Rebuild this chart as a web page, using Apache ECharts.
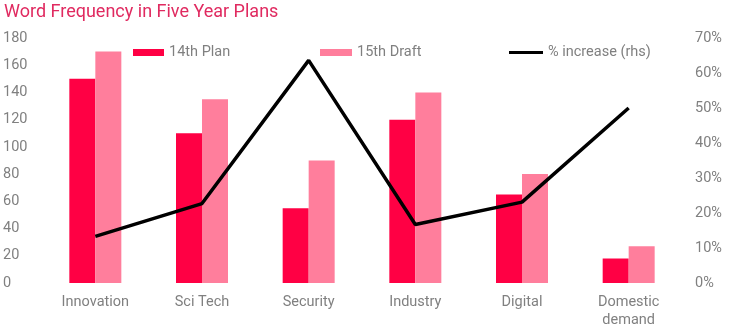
<!DOCTYPE html>
<html><head><meta charset="utf-8">
<script src="https://cdn.jsdelivr.net/npm/echarts@6/dist/echarts.min.js"></script>
<style>html,body{margin:0;padding:0;background:#fff}#c{width:739px;height:333px}</style>
</head><body><div id="c"></div>
<script>
const categories = ['Innovation', 'Sci Tech', 'Security', 'Industry', 'Digital', 'Domestic\ndemand'];
const plan14 = [150, 110, 55, 120, 65, 18];
const draft15 = [170, 135, 90, 140, 80, 27];
const pctIncrease = [0.133, 0.227, 0.636, 0.167, 0.231, 0.50];
const leftTicks = [0, 180, 20];
const rightTicks = [0, 0.7, 0.1];

const txt = '#808080';
const font = 'Roboto';
const fs = 14.5;
const chart = echarts.init(document.getElementById('c'));
chart.setOption({
  animation: false,
  textStyle: { fontFamily: font },
  title: { text: 'Word Frequency in Five Year Plans', left: 2, top: 1, padding: [2, 2],
    textStyle: { color: '#e02a60', fontSize: 18, fontWeight: 'normal', fontFamily: font } },
  legend: [
    { data: ['14th Plan'], left: 133, top: 45, padding: 0, itemWidth: 31, itemHeight: 7, icon: 'rect', itemGap: 4,
      textStyle: { color: txt, fontSize: fs, fontFamily: font } },
    { data: ['15th Draft'], left: 320, top: 45, padding: 0, itemWidth: 32, itemHeight: 7, icon: 'rect',
      textStyle: { color: txt, fontSize: fs, fontFamily: font } },
    { data: [{ name: '% increase (rhs)', icon: 'rect', itemStyle: { color: '#000' } }], left: 509, top: 45, padding: 0, itemWidth: 34, itemHeight: 3,
      textStyle: { color: txt, fontSize: fs, fontFamily: font } }
  ],
  grid: { left: 42, right: 57, top: 38, bottom: 50, containLabel: false },
  xAxis: { type: 'category', data: categories,
    axisLine: { show: false }, axisTick: { show: false },
    axisLabel: { color: txt, fontSize: fs, margin: 10, lineHeight: 18, fontFamily: font } },
  yAxis: [
    { type: 'value', min: leftTicks[0], max: leftTicks[1], interval: leftTicks[2],
      splitLine: { show: false }, axisLine: { show: false }, axisTick: { show: false },
      axisLabel: { color: txt, fontSize: fs, align: 'left', margin: 39, fontFamily: font } },
    { type: 'value', min: rightTicks[0], max: rightTicks[1], interval: rightTicks[2],
      splitLine: { show: false }, axisLine: { show: false }, axisTick: { show: false },
      axisLabel: { color: txt, fontSize: fs, margin: 13, fontFamily: font,
        formatter: v => Math.round(v * 100) + '%' } }
  ],
  series: [
    { name: '14th Plan', type: 'bar', data: plan14, barWidth: 26, barGap: '0%',
      itemStyle: { color: '#ff0044' } },
    { name: '15th Draft', type: 'bar', data: draft15, barWidth: 26, barGap: '0%',
      itemStyle: { color: '#ff7e9c' } },
    { name: '% increase (rhs)', type: 'line', yAxisIndex: 1, data: pctIncrease,
      symbol: 'none', lineStyle: { color: '#000', width: 3.5 }, itemStyle: { color: '#000' } }
  ]
});
</script></body></html>
